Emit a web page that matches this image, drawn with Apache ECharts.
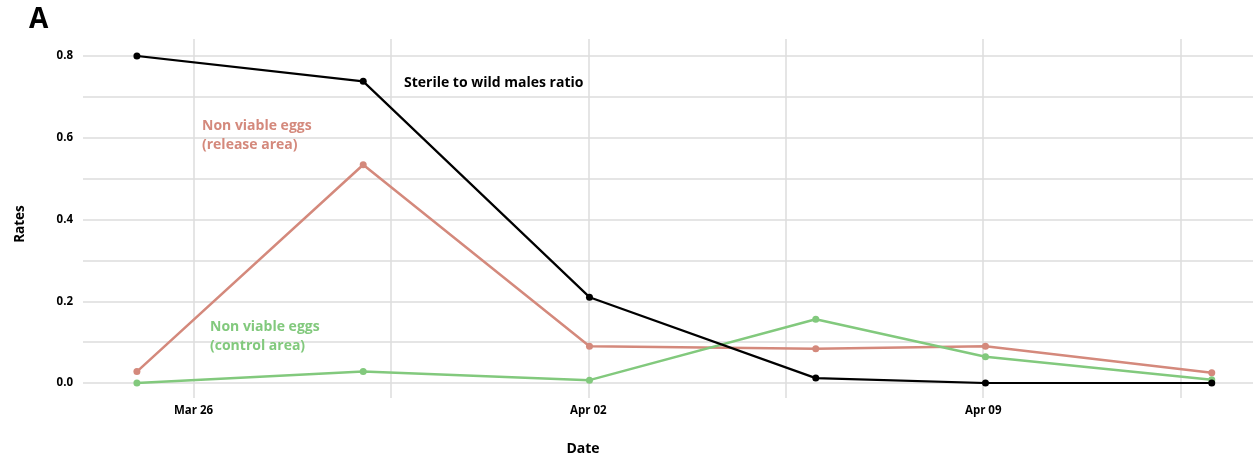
<!DOCTYPE html>
<html>
<head>
<meta charset="utf-8">
<script src="https://cdn.jsdelivr.net/npm/echarts@6/dist/echarts.min.js"></script>
<style>
  html, body { margin: 0; padding: 0; background: #ffffff; }
  #chart { width: 1253px; height: 459px; }
</style>
</head>
<body>
<div id="chart"></div>
<script>
// ---- data ----
const dates = ['03-25', '03-29', '04-02', '04-06', '04-09', '04-13'];
const sterileToWild = [0.80, 0.738, 0.210, 0.012, 0.0, 0.0];
const nonViableRelease = [0.028, 0.534, 0.090, 0.084, 0.090, 0.025];
const nonViableControl = [0.0, 0.028, 0.007, 0.156, 0.064, 0.008];
const yTickLabels = ['0.0', '0.2', '0.4', '0.6', '0.8'];
const xTickDates = ['03-26', '04-02', '04-09'];

const MONTHS = ['Jan','Feb','Mar','Apr','May','Jun','Jul','Aug','Sep','Oct','Nov','Dec'];
const DAY = 86400000;
function toUTC(md) { const [m, d] = md.split('-').map(Number); return Date.UTC(2001, m - 1, d); }
const ORIGIN = toUTC(xTickDates[0]);           // day 0 = Mar 26
function dayOf(md) { return Math.round((toUTC(md) - ORIGIN) / DAY); }
function fmtDay(v) {
  const dt = new Date(ORIGIN + v * DAY);
  return MONTHS[dt.getUTCMonth()] + ' ' + String(dt.getUTCDate()).padStart(2, '0');
}
const tickDays = xTickDates.map(dayOf);
function pairs(vals) { return dates.map((d, i) => [dayOf(d), vals[i]]); }

const FONT = '"Open Sans", "Noto Sans", sans-serif';
const BLACK = '#000000', RED = '#d4897c', GREEN = '#82c97d', GRID = '#dcdcdc';

const chart = echarts.init(document.getElementById('chart'), null, { renderer: 'canvas' });
chart.setOption({
  backgroundColor: '#ffffff',
  animation: false,
  grid: [
    { left: 83, right: 0, top: 56, bottom: 76 },      // horizontal lines + series
    { left: 193.5, right: 0, top: 39, bottom: 61 }    // vertical lines + date labels (starts at Mar 26)
  ],
  xAxis: [
    { gridIndex: 0, type: 'value', min: -1.953, max: 18.729, show: false, splitLine: { show: false } },
    { gridIndex: 1, type: 'value', min: 0, max: 18.729, interval: 3.5,
      axisLine: { show: false }, axisTick: { show: false },
      splitLine: { show: true, showMinLine: true, showMaxLine: false, lineStyle: { color: GRID, width: 1.5 } },
      axisLabel: {
        margin: 7, color: '#000', fontFamily: FONT, fontWeight: 'bold', fontSize: 11.5,
        showMinLabel: true, showMaxLabel: true,
        formatter: v => (tickDays.indexOf(Math.round(v * 1000) / 1000) >= 0 ? fmtDay(v) : '')
      }
    }
  ],
  yAxis: [
    { gridIndex: 0, type: 'value', min: 0, max: 0.8, interval: 0.1,
      axisLine: { show: false }, axisTick: { show: false },
      splitLine: { show: true, lineStyle: { color: GRID, width: 1.5 } },
      axisLabel: {
        margin: 10, color: '#000', fontFamily: FONT, fontWeight: 'bold', fontSize: 11.5,
        formatter: v => { const s = v.toFixed(1); return yTickLabels.indexOf(s) >= 0 ? s : ''; }
      }
    },
    { gridIndex: 1, type: 'value', min: 0, max: 1, show: false, splitLine: { show: false } }
  ],
  series: [
    { name: 'Non viable eggs (release area)', type: 'line', xAxisIndex: 0, yAxisIndex: 0,
      data: pairs(nonViableRelease), symbol: 'circle', symbolSize: 7,
      lineStyle: { color: RED, width: 2.5 }, itemStyle: { color: RED }, z: 3 },
    { name: 'Non viable eggs (control area)', type: 'line', xAxisIndex: 0, yAxisIndex: 0,
      data: pairs(nonViableControl), symbol: 'circle', symbolSize: 7,
      lineStyle: { color: GREEN, width: 2.5 }, itemStyle: { color: GREEN }, z: 4 },
    { name: 'Sterile to wild males ratio', type: 'line', xAxisIndex: 0, yAxisIndex: 0,
      data: pairs(sterileToWild), symbol: 'circle', symbolSize: 7,
      lineStyle: { color: BLACK, width: 2.2 }, itemStyle: { color: BLACK }, z: 5 }
  ],
  graphic: [
    { type: 'text', x: 29, y: 20, z: 10,
      style: { text: 'A', fill: '#000', font: 'bold 28px ' + FONT, align: 'left', verticalAlign: 'middle' } },
    { type: 'text', x: 20, y: 224, rotation: Math.PI / 2, z: 10,
      style: { text: 'Rates', fill: '#000', font: 'bold 13.5px ' + FONT, align: 'center', verticalAlign: 'middle' } },
    { type: 'text', x: 583, y: 449, z: 10,
      style: { text: 'Date', fill: '#000', font: 'bold 14px ' + FONT, align: 'center', verticalAlign: 'middle' } },
    { type: 'text', x: 404, y: 83, z: 10,
      style: { text: 'Sterile to wild males ratio', fill: '#000', font: 'bold 14px ' + FONT, align: 'left', verticalAlign: 'middle' } },
    { type: 'text', x: 202, y: 135.5, z: 10,
      style: { text: 'Non viable eggs\n(release area)', fill: RED, font: 'bold 14px ' + FONT, lineHeight: 19, align: 'left', verticalAlign: 'middle' } },
    { type: 'text', x: 210, y: 336.5, z: 10,
      style: { text: 'Non viable eggs\n(control area)', fill: GREEN, font: 'bold 14px ' + FONT, lineHeight: 19, align: 'left', verticalAlign: 'middle' } }
  ]
});
</script>
</body>
</html>
